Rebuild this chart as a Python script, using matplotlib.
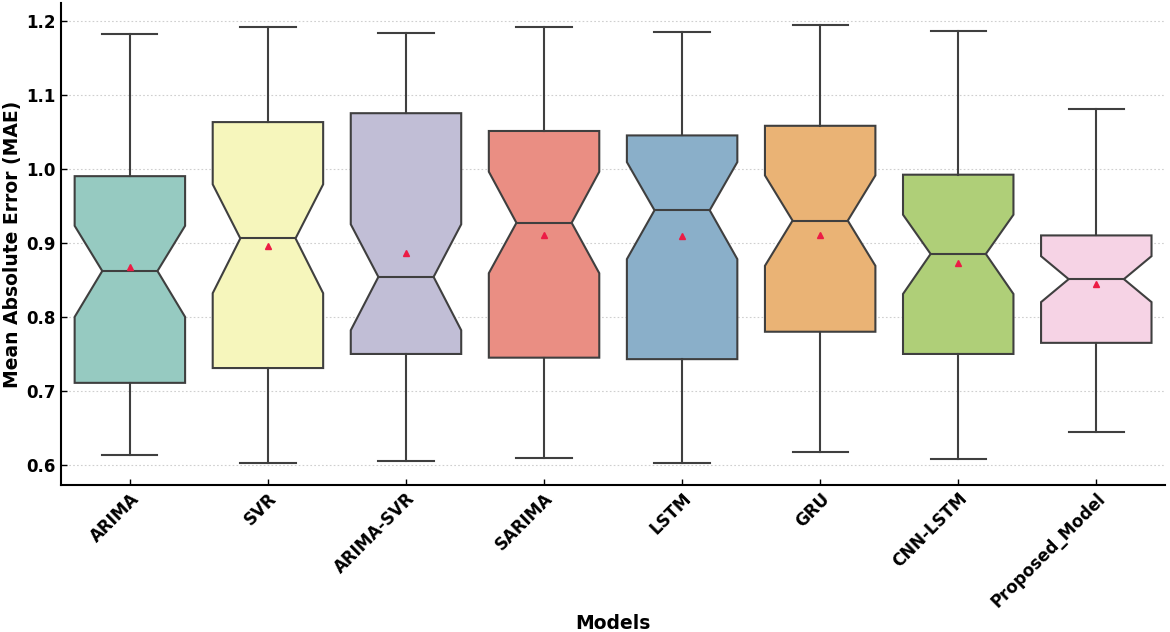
import colorsys
import matplotlib
matplotlib.use("Agg")
import matplotlib.pyplot as plt
import matplotlib.colors as mcolors

# summary stats
models = ["ARIMA", "SVR", "ARIMA-SVR", "SARIMA", "LSTM", "GRU", "CNN-LSTM", "Proposed_Model"]
whislo = [0.613, 0.603, 0.605, 0.610, 0.603, 0.618, 0.608, 0.644]
q1 = [0.711, 0.731, 0.750, 0.745, 0.743, 0.780, 0.750, 0.765]
med = [0.862, 0.906, 0.854, 0.927, 0.944, 0.930, 0.885, 0.851]
q3 = [0.990, 1.063, 1.075, 1.051, 1.045, 1.058, 0.992, 0.910]
whishi = [1.182, 1.192, 1.183, 1.191, 1.184, 1.194, 1.186, 1.081]
notch_lo = [0.800, 0.832, 0.782, 0.859, 0.878, 0.869, 0.831, 0.820]
notch_hi = [0.923, 0.979, 0.925, 0.996, 1.009, 0.991, 0.938, 0.882]
means = [0.867, 0.896, 0.886, 0.910, 0.909, 0.911, 0.873, 0.845]

set3 = ["#8dd3c7", "#ffffb3", "#bebada", "#fb8072", "#80b1d3", "#fdb462", "#b3de69", "#fccde5"]


def desat(c, prop=0.75):
    h, l, s = colorsys.rgb_to_hls(*mcolors.to_rgb(c))
    return colorsys.hls_to_rgb(h, l, s * prop)


stats = []
for i, m in enumerate(models):
    stats.append(dict(label=m, whislo=whislo[i], q1=q1[i], med=med[i], q3=q3[i],
                      whishi=whishi[i], cilo=notch_lo[i], cihi=notch_hi[i],
                      mean=means[i], fliers=[]))

fig = plt.figure(figsize=(11.7, 6.32), dpi=100)
ax = fig.add_axes([0.052, 0.233, 0.944, 0.762])

edge = "#3f3f3f"
bp = ax.bxp(stats, positions=range(len(models)), widths=0.8, shownotches=True,
            showmeans=True, patch_artist=True,
            boxprops=dict(edgecolor=edge, linewidth=1.5),
            medianprops=dict(color=edge, linewidth=1.5),
            whiskerprops=dict(color=edge, linewidth=1.5),
            capprops=dict(color=edge, linewidth=1.5),
            meanprops=dict(marker="^", markerfacecolor="#ec1c45", markeredgecolor="#ec1c45",
                           markersize=5))
for patch, c in zip(bp["boxes"], set3):
    patch.set_facecolor(desat(c))

ax.set_xlim(-0.5, len(models) - 0.5)
ax.margins(y=0.05)
ax.autoscale(axis="y")
ax.set_yticks([0.6, 0.7, 0.8, 0.9, 1.0, 1.1, 1.2])
ax.yaxis.grid(True, linestyle=(0, (1.5, 2)), color="#cfcfcf", linewidth=0.8)
ax.set_axisbelow(True)

ax.spines["top"].set_visible(False)
ax.spines["right"].set_visible(False)
ax.spines["left"].set_linewidth(1.5)
ax.spines["bottom"].set_linewidth(1.5)
ax.tick_params(direction="in", length=4, width=1, labelsize=12)

ax.set_xticks(range(len(models)))
ax.set_xticklabels(models, rotation=45, ha="right", rotation_mode="anchor", fontweight="bold")
for lbl in ax.get_yticklabels():
    lbl.set_fontweight("bold")

ax.set_xlabel("Models", fontsize=13.5, fontweight="bold", labelpad=2)
ax.set_ylabel("Mean Absolute Error (MAE)", fontsize=13.5, fontweight="bold", labelpad=3)

fig.savefig("out.png", dpi=100)
